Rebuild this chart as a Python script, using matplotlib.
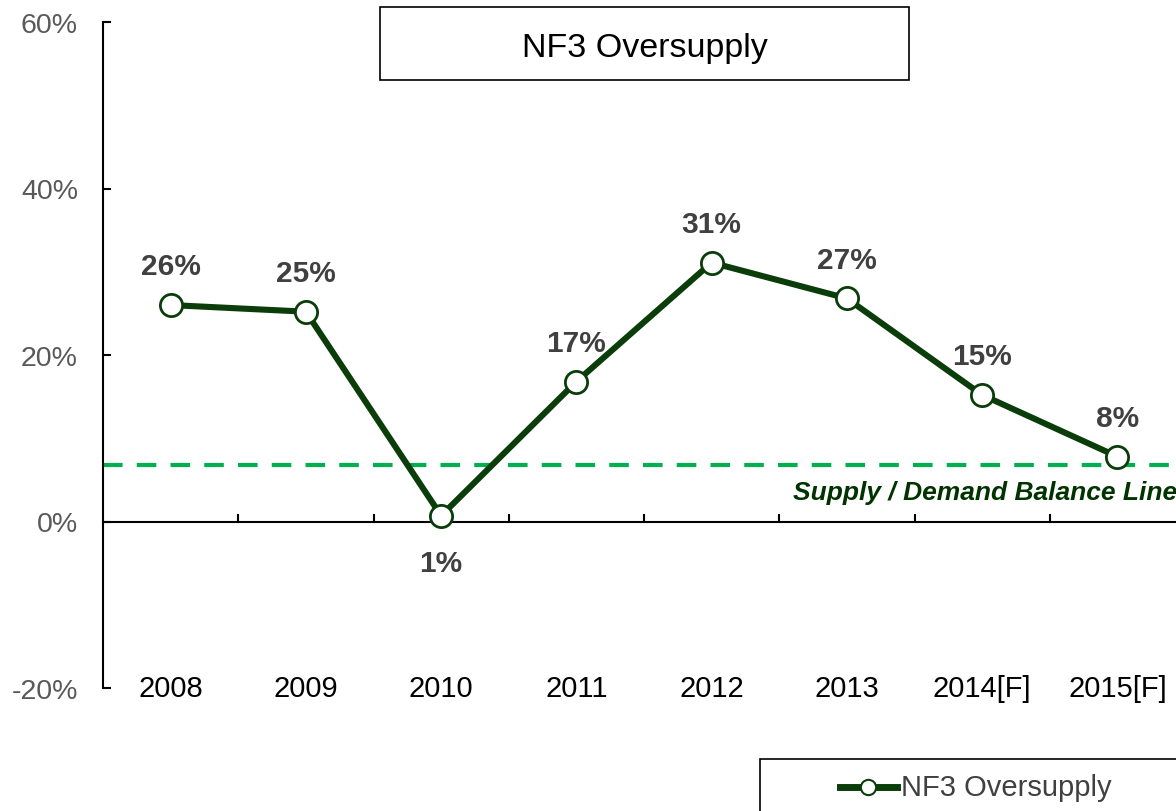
import matplotlib
matplotlib.use("Agg")
import matplotlib.pyplot as plt
from matplotlib.patches import Rectangle
from matplotlib.lines import Line2D

plt.rcParams["font.family"] = ["Liberation Sans", "DejaVu Sans"]

# Données
years = ["2008", "2009", "2010", "2011", "2012", "2013", "2014[F]", "2015[F]"]
oversupply = [26.0, 25.2, 0.7, 16.8, 31.1, 26.8, 15.2, 7.8]
labels = ["26%", "25%", "1%", "17%", "31%", "27%", "15%", "8%"]
label_below = [False, False, True, False, False, False, False, False]
balance_level = 6.8
y_ticks = [-20, 0, 20, 40, 60]

line_color = "#0b3d0b"
balance_color = "#00b050"

fig = plt.figure(figsize=(11.76, 8.12), dpi=100)
ax = fig.add_axes([103 / 1176, 123 / 812, 1082 / 1176, 666 / 812])

x = list(range(len(years)))

# Ligne d'équilibre offre / demande.
ax.axhline(balance_level, color=balance_color, linewidth=3,
           dashes=(4.7, 3.4), zorder=2)
ax.text(4.6, balance_level - 1.8, "Supply / Demand Balance Line",
        color="#003300", fontsize=19, fontweight="bold", style="italic",
        ha="left", va="top", clip_on=False)

# Série principale.
ax.plot(x, oversupply, color=line_color, linewidth=4.4, marker="o",
        markersize=16, markerfacecolor="white", markeredgecolor=line_color,
        markeredgewidth=2, zorder=4, clip_on=False)

# Étiquettes des valeurs.
for xi, val, lab, below in zip(x, oversupply, labels, label_below):
    offset = -34 if below else 28
    ax.annotate(lab, (xi, val), textcoords="offset points",
                xytext=(0, offset), ha="center", va="center",
                fontsize=21.5, fontweight="bold", color="#404040")

ax.set_xlim(-0.5, len(years) - 0.5)
ax.set_ylim(-20, 60)

# Axes façon tableur.
ax.spines["top"].set_visible(False)
ax.spines["right"].set_visible(False)
ax.spines["bottom"].set_position(("data", 0))
ax.spines["left"].set_linewidth(1.5)
ax.spines["bottom"].set_linewidth(1.5)

ax.set_yticks(y_ticks)
ax.set_yticklabels([f"{t}%" for t in y_ticks], fontsize=20.5, color="#595959")
ax.tick_params(axis="y", direction="in", length=6, width=1.5, pad=18)

ax.set_xticks([i + 0.5 for i in range(len(years) - 1)])
ax.set_xticklabels([])
ax.tick_params(axis="x", direction="in", length=6, width=1.5)

for xi, year in zip(x, years):
    ax.text(xi, -20, year, ha="center", va="center", fontsize=21,
            color="black")

# Titre encadré.
fig.patches.append(Rectangle((380 / 1176, 1 - 81 / 812), 529 / 1176,
                             73 / 812, transform=fig.transFigure,
                             facecolor="white", edgecolor="black",
                             linewidth=1.2))
fig.text(645 / 1176, 1 - 48 / 812, "NF3 Oversupply", ha="center",
         va="center", fontsize=24.5, color="black")

# Légende encadrée.
fig.patches.append(Rectangle((760 / 1176, -0.01), 0.4, 1 - 760 / 812 + 0.01,
                             transform=fig.transFigure, facecolor="white",
                             edgecolor="black", linewidth=1.2))
fig.lines.append(Line2D([840 / 1176, 897 / 1176], [1 - 788 / 812] * 2,
                        transform=fig.transFigure, color=line_color,
                        linewidth=5, marker=None))
fig.lines.append(Line2D([868 / 1176], [1 - 788 / 812],
                        transform=fig.transFigure, color=line_color,
                        linestyle="none", marker="o", markersize=11,
                        markerfacecolor="white", markeredgewidth=1.5))
fig.text(901 / 1176, 1 - 788 / 812, "NF3 Oversupply", ha="left",
         va="center", fontsize=21, color="#404040")

fig.savefig("out.png", dpi=100)
plt.close(fig)
